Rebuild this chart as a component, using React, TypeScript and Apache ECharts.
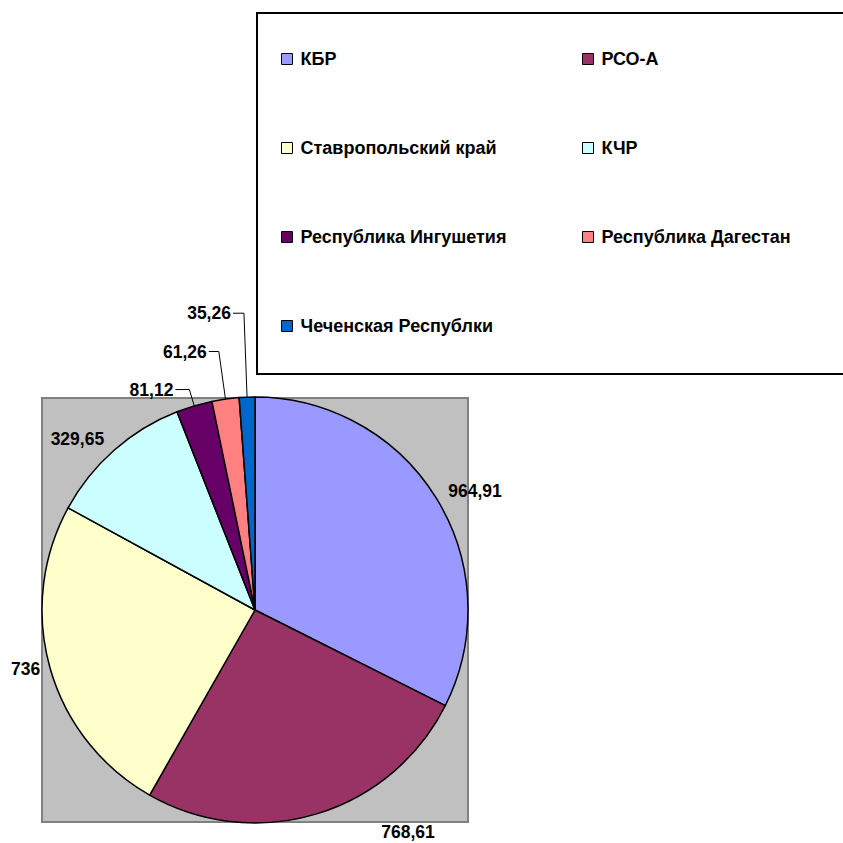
import React, { useEffect, useRef } from "react";
import * as echarts from "echarts";

const categories = [
  "КБР",
  "РСО-А",
  "Ставропольский край",
  "КЧР",
  "Республика Ингушетия",
  "Республика Дагестан",
  "Чеченская Республки",
];
const values = [964.91, 768.61, 736, 329.65, 81.12, 61.26, 35.26];
const colors = ["#9999FF", "#993366", "#FFFFCC", "#CCFFFF", "#660066", "#FF8080", "#0066CC"];
const legendCol1 = ["КБР", "Ставропольский край", "Республика Ингушетия", "Чеченская Республки"];
const legendCol2 = ["РСО-А", "КЧР", "Республика Дагестан"];

// label leader settings per slice: [length, length2, showLine, distance]
const labelLines: [number, number, boolean, number][] = [
  [14, 0, false, 0],
  [19, 59, false, 0],
  [4, 6, false, 0],
  [15, 0, false, 0],
  [17, 14, true, 2],
  [48, 10, true, 2],
  [84, 11, true, 2],
];

const FONT = "'Liberation Sans', Arial, sans-serif";

export default function App() {
  const ref = useRef<HTMLDivElement>(null);
  useEffect(() => {
    if (!ref.current) return;
    const chart = echarts.init(ref.current, undefined, { renderer: "svg" });
    const data = categories.map((name, i) => ({
      name,
      value: values[i],
      itemStyle: { color: colors[i] },
      label: { distanceToLabelLine: labelLines[i][3] },
      labelLine: {
        show: labelLines[i][2],
        length: labelLines[i][0],
        length2: labelLines[i][1],
      },
    }));
    const legendCommon = {
      orient: "vertical" as const,
      icon: "rect",
      padding: 0,
      itemWidth: 11,
      itemHeight: 11,
      itemGap: 71,
      selectedMode: false,
      itemStyle: { borderColor: "#000", borderWidth: 1 },
      textStyle: {
        fontFamily: FONT,
        fontWeight: "bold" as const,
        fontSize: 18,
        lineHeight: 18,
        color: "#000",
        padding: [0, 0, 0, 3],
      },
    };
    chart.setOption({
      animation: false,
      backgroundColor: "#fff",
      graphic: [
        {
          type: "rect",
          z: 0,
          shape: { x: 42, y: 398, width: 426, height: 424 },
          style: { fill: "#C0C0C0", stroke: "#808080", lineWidth: 2 },
        },
        {
          type: "rect",
          z: 0,
          shape: { x: 257, y: 13, width: 620, height: 361 },
          style: { fill: "#fff", stroke: "#000", lineWidth: 2 },
        },
      ],
      legend: [
        { ...legendCommon, left: 281, top: 50, data: legendCol1 },
        { ...legendCommon, left: 582, top: 50, data: legendCol2 },
      ],
      series: [
        {
          type: "pie",
          z: 2,
          center: [255, 610],
          radius: 213,
          startAngle: 90,
          clockwise: true,
          avoidLabelOverlap: false,
          itemStyle: { borderColor: "#000", borderWidth: 1.5 },
          label: {
            show: true,
            position: "outside",
            fontFamily: FONT,
            fontWeight: "bold",
            fontSize: 17.5,
            color: "#000",
            formatter: (p: any) => String(p.value).replace(".", ","),
          },
          labelLine: { lineStyle: { color: "#000", width: 1 }, smooth: false },
          emphasis: { disabled: true },
          data,
        },
      ],
    });
    return () => chart.dispose();
  }, []);
  return (
    <div
      ref={ref}
      style={{ position: "fixed", left: 0, top: 0, width: 843, height: 843 }}
    />
  );
}
